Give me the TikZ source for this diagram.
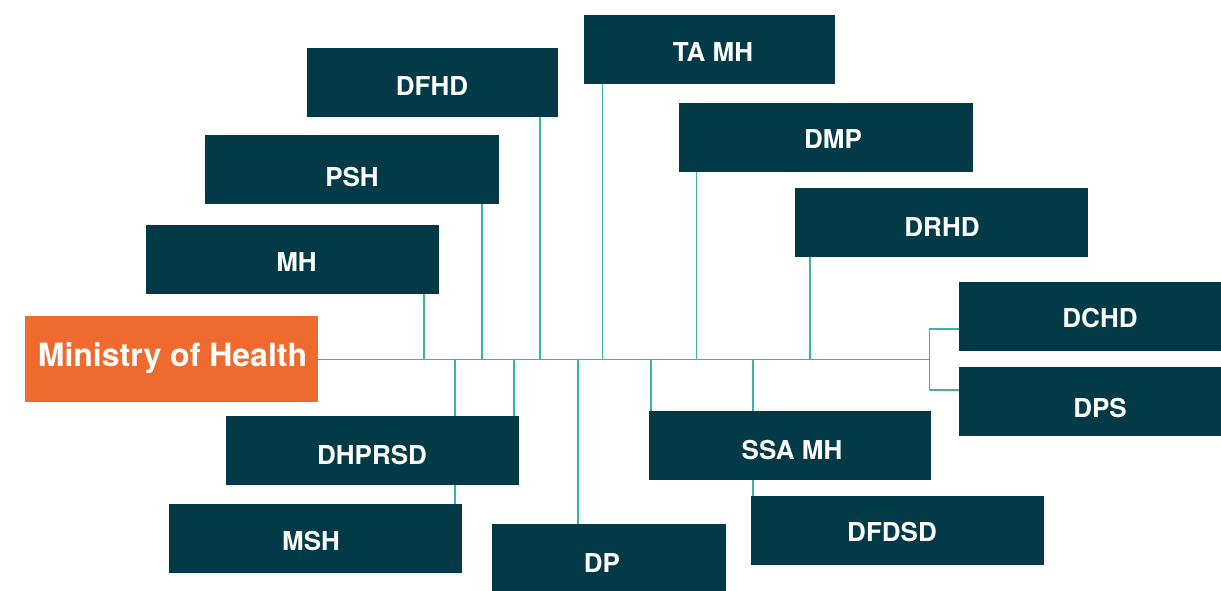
\documentclass[tikz,border=0pt]{standalone}
\usepackage{fontspec}
\setmainfont{TeX Gyre Heros}
\definecolor{unitfill}{HTML}{023A47}
\definecolor{headfill}{HTML}{EE6A2E}
\definecolor{linkcol}{HTML}{3FB2A6}
\begin{document}
\begin{tikzpicture}[x=1pt,y=-1pt,
  unitbox/.style={fill=unitfill, draw=none, inner sep=0pt, anchor=north west},
  headbox/.style={fill=headfill, draw=none, inner sep=0pt, anchor=north west},
  unittext/.style={text=white, inner sep=0pt, font=\bfseries\fontsize{26}{26}\selectfont},
  headtext/.style={text=white, inner sep=0pt, font=\bfseries\fontsize{32}{32}\selectfont},
  link/.style={draw=linkcol, line width=1.5pt}]
\useasboundingbox (0,0) rectangle (1221,590);

% boxes
\node[headbox, minimum width=293pt, minimum height=86pt] (moh) at (25,316) {};
\node[unitbox, minimum width=293pt, minimum height=69pt] (mh) at (146,225) {};
\node[unitbox, minimum width=294pt, minimum height=69pt] (psh) at (205,135) {};
\node[unitbox, minimum width=251pt, minimum height=69pt] (dfhd) at (307,48) {};
\node[unitbox, minimum width=251pt, minimum height=69pt] (tamh) at (584,15) {};
\node[unitbox, minimum width=294pt, minimum height=69pt] (dmp) at (679,103) {};
\node[unitbox, minimum width=293pt, minimum height=69pt] (drhd) at (795,188) {};
\node[unitbox, minimum width=290pt, minimum height=69pt] (dchd) at (959,282) {};
\node[unitbox, minimum width=290pt, minimum height=69pt] (dps) at (959,367) {};
\node[unitbox, minimum width=293pt, minimum height=69pt] (dhprsd) at (226,416) {};
\node[unitbox, minimum width=293pt, minimum height=69pt] (msh) at (169,504) {};
\node[unitbox, minimum width=234pt, minimum height=80pt] (dp) at (492,524) {};
\node[unitbox, minimum width=282pt, minimum height=69pt] (ssamh) at (649,411) {};
\node[unitbox, minimum width=293pt, minimum height=69pt] (dfdsd) at (751,496) {};

% labels
\node[headtext] (moh-t) at (172.5,358.5) {Ministry of Health};
\node[unittext] (mh-t) at (296.5,262.5) {MH};
\node[unittext] (psh-t) at (352,177) {PSH};
\node[unittext] (dfhd-t) at (432,86) {DFHD};
\node[unittext] (tamh-t) at (713,52.5) {TA MH};
\node[unittext] (dmp-t) at (833,139) {DMP};
\node[unittext] (drhd-t) at (942,227) {DRHD};
\node[unittext] (dchd-t) at (1100,318.5) {DCHD};
\node[unittext] (dps-t) at (1100,408) {DPS};
\node[unittext] (dhprsd-t) at (372,455) {DHPRSD};
\node[unittext] (msh-t) at (311,541) {MSH};
\node[unittext] (dp-t) at (602,563) {DP};
\node[unittext] (ssamh-t) at (792,450) {SSA MH};
\node[unittext] (dfdsd-t) at (892,532) {DFDSD};

% junctions on the trunk line
\coordinate (jmh) at (424,359.5);
\coordinate (jpsh) at (482,359.5);
\coordinate (jdfhd) at (540,359.5);
\coordinate (jtamh) at (602.5,359.5);
\coordinate (jdmp) at (696.5,359.5);
\coordinate (jdrhd) at (810,359.5);
\coordinate (jdh1) at (455,359.5);
\coordinate (jdh2) at (514,359.5);
\coordinate (jdp) at (578,359.5);
\coordinate (jss1) at (651,359.5);
\coordinate (jss2) at (753,359.5);
\coordinate (fork) at (929.5,359.5);

% trunk
\draw[link] (moh.east |- fork) -- (fork);

% branches above
\draw[link] (jmh) -- (jmh |- mh.south);
\draw[link] (jpsh) -- (jpsh |- psh.south);
\draw[link] (jdfhd) -- (jdfhd |- dfhd.south);
\draw[link] (jtamh) -- (jtamh |- tamh.south);
\draw[link] (jdmp) -- (jdmp |- dmp.south);
\draw[link] (jdrhd) -- (jdrhd |- drhd.south);

% branches below
\draw[link] (jdh1) -- (jdh1 |- dhprsd.north);
\draw[link] (jdh2) -- (jdh2 |- dhprsd.north);
\draw[link] (jdp) -- (jdp |- dp.north);
\draw[link] (jss1) -- (jss1 |- ssamh.north);
\draw[link] (jss2) -- (jss2 |- ssamh.north);

% second-level links
\draw[link] (jdh1 |- dhprsd.south) -- (jdh1 |- msh.north);
\draw[link] (jss2 |- ssamh.south) -- (jss2 |- dfdsd.north);

% fork to the two right-hand units
\coordinate (fdchd) at (929.5,329);
\coordinate (fdps) at (929.5,390);
\draw[link] (fdchd -| dchd.west) -- (fdchd) -- (fdps) -- (fdps -| dps.west);
\end{tikzpicture}
\end{document}
